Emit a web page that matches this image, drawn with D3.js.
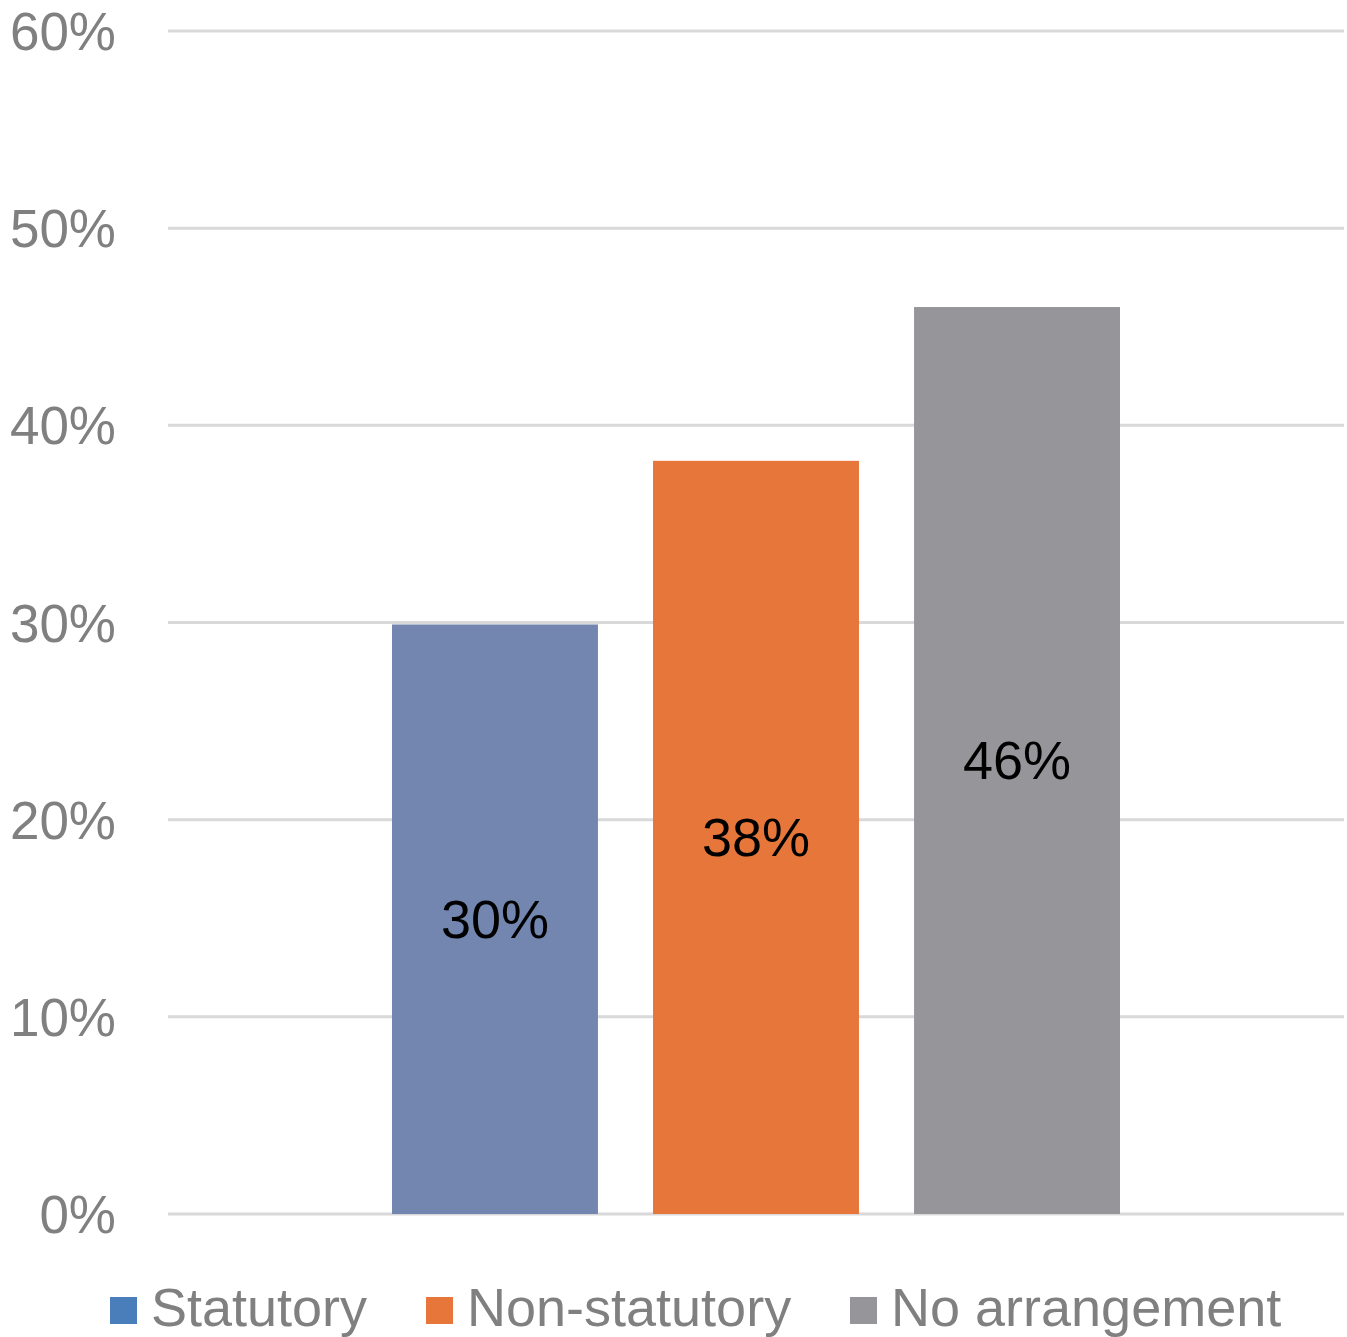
<!DOCTYPE html>
<html><head><meta charset="utf-8">
<script src="https://cdn.jsdelivr.net/npm/d3@7"></script>
<style>html,body{margin:0;padding:0;background:#fff;}svg{display:block;}</style>
</head><body>
<svg id="chart" width="1347" height="1337"></svg>
<script>
const categories = ["Statutory", "Non-statutory", "No arrangement"];
const values = [0.299, 0.382, 0.46];
const barColors = ["#7286b0", "#e6763a", "#96969a"];
const legendColors = ["#4a7ebb", "#e6763a", "#96969a"];
const yTicks = [0, 0.1, 0.2, 0.3, 0.4, 0.5, 0.6];

const svg = d3.select("#chart");
const font = "'Liberation Sans', Arial, sans-serif";
const plot = {left: 168, right: 1344, top: 31, bottom: 1214};

const y = d3.scaleLinear().domain([0, 0.6]).range([plot.bottom, plot.top]);
const x = d3.scaleBand().domain(categories).range([392, 1120]).paddingInner(0.211).paddingOuter(0);

// gridlines
svg.append("g").selectAll("line").data(yTicks).join("line")
  .attr("x1", plot.left).attr("x2", plot.right)
  .attr("y1", d => y(d)).attr("y2", d => y(d))
  .attr("stroke", "#d9d9d9").attr("stroke-width", 3);

// y axis labels
const yAxis = d3.axisLeft(y).tickValues(yTicks).tickFormat(d3.format(".0%")).tickSize(0).tickPadding(0);
const ya = svg.append("g").attr("transform", "translate(116,0)").call(yAxis);
ya.select(".domain").remove();
ya.selectAll("text").attr("font-family", font).attr("font-size", 53).attr("fill", "#808080").attr("dy", "0.35em");

// bars
svg.append("g").selectAll("rect").data(categories).join("rect")
  .attr("x", d => x(d)).attr("width", x.bandwidth())
  .attr("y", (d, i) => y(values[i])).attr("height", (d, i) => y(0) - y(values[i]))
  .attr("fill", (d, i) => barColors[i]);

// data labels
svg.append("g").selectAll("text").data(categories).join("text")
  .attr("x", d => x(d) + x.bandwidth() / 2)
  .attr("y", (d, i) => (y(values[i]) + y(0)) / 2)
  .attr("dy", "0.35em").attr("text-anchor", "middle")
  .attr("font-family", font).attr("font-size", 54).attr("fill", "#000")
  .text((d, i) => d3.format(".0%")(values[i]));

// legend
const legendX = [110, 426, 850];
const lg = svg.append("g");
categories.forEach((c, i) => {
  lg.append("rect").attr("x", legendX[i]).attr("y", 1297).attr("width", 27).attr("height", 27).attr("fill", legendColors[i]);
  lg.append("text").attr("x", legendX[i] + 41).attr("y", 1326)
    .attr("font-family", font).attr("font-size", 54).attr("fill", "#808080").text(c);
});
</script>
</body></html>
